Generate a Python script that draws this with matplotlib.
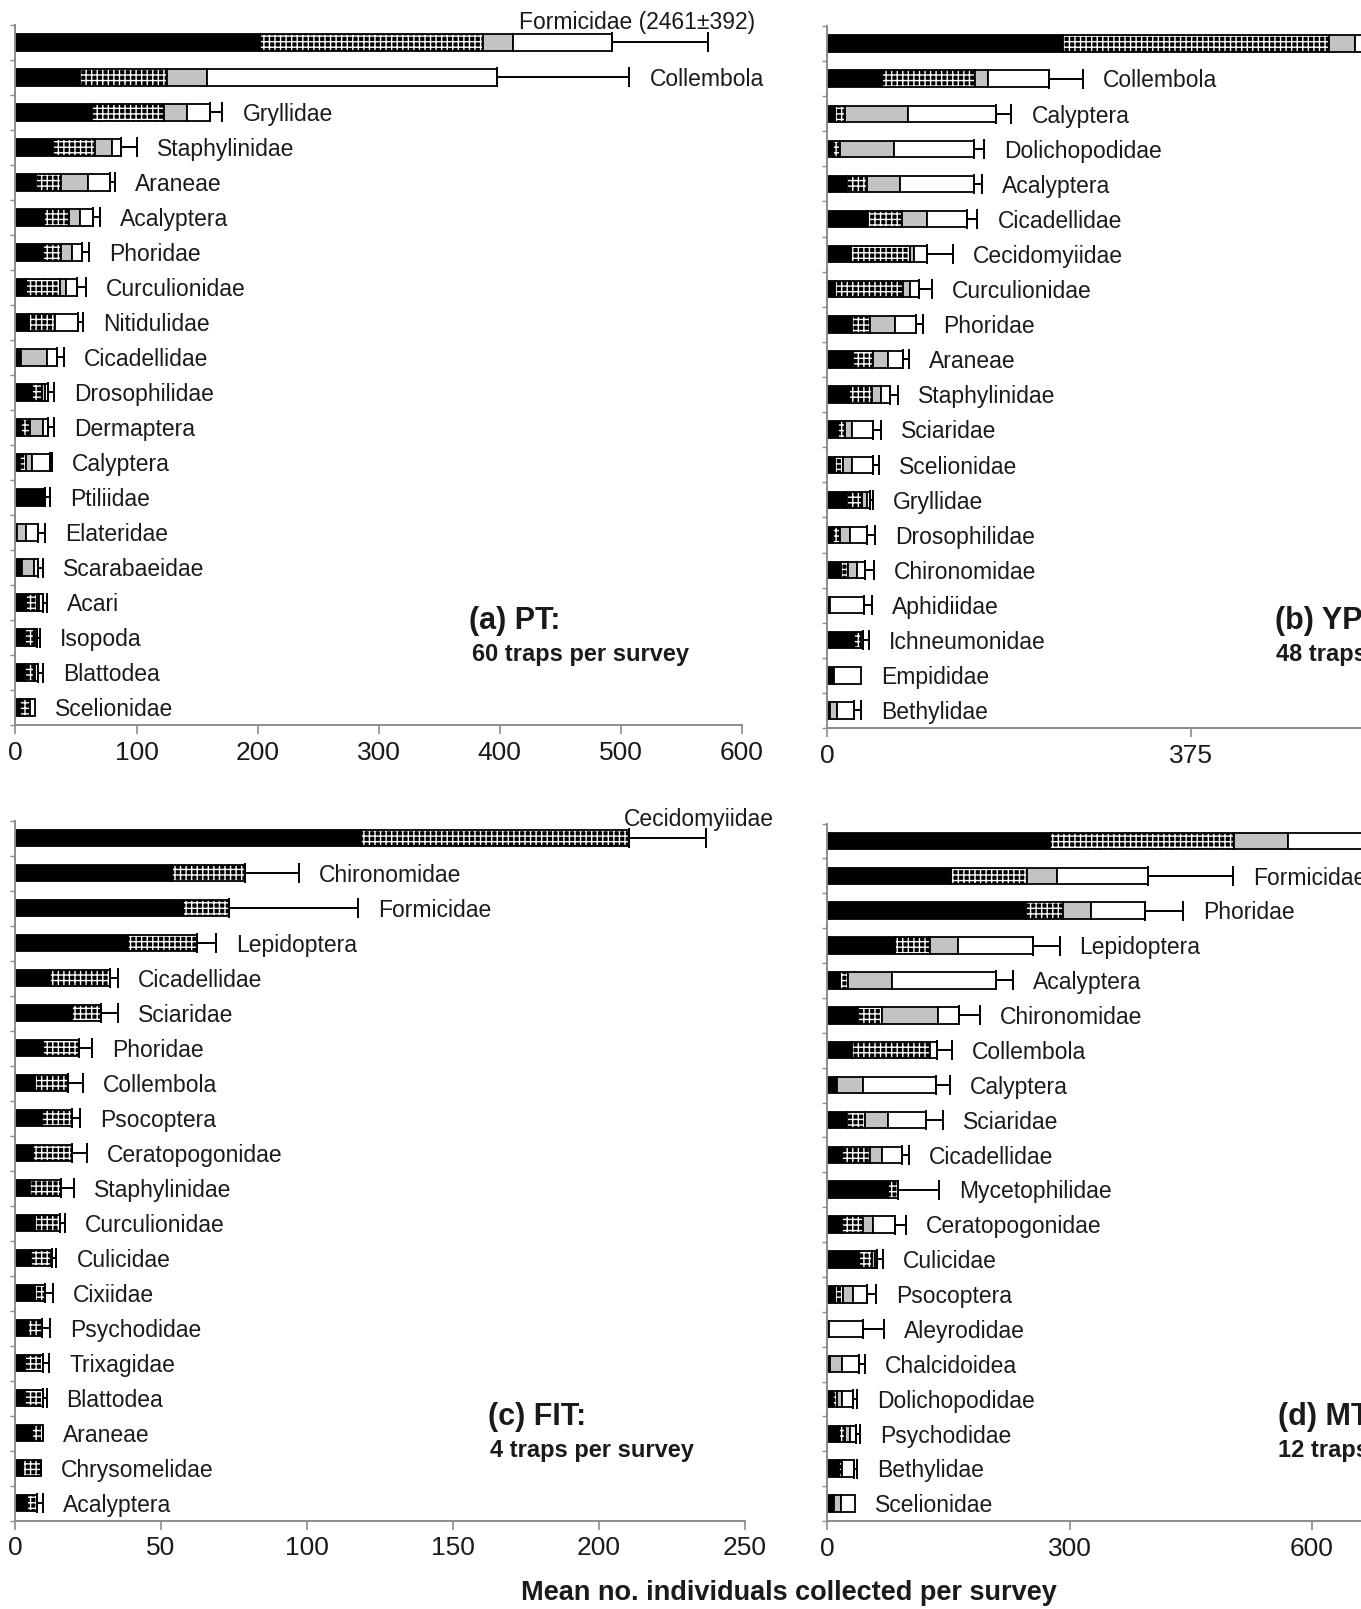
import matplotlib
matplotlib.use('Agg')
import matplotlib.pyplot as plt
import numpy as np

plt.rcParams['font.family'] = ['Liberation Sans', 'DejaVu Sans']
plt.rcParams['hatch.linewidth'] = 1.0

W, H = 1361, 1609

# segment order in every bar: black, stippled, grey, white (+ SE as the error bar)

# (a) PT
pt_taxa = ['Formicidae (2461±392)', 'Collembola', 'Gryllidae', 'Staphylinidae', 'Araneae',
           'Acalyptera', 'Phoridae', 'Curculionidae', 'Nitidulidae', 'Cicadellidae',
           'Drosophilidae', 'Dermaptera', 'Calyptera', 'Ptiliidae', 'Elateridae',
           'Scarabaeidae', 'Acari', 'Isopoda', 'Blattodea', 'Scelionidae']
pt_black = [202, 53, 63, 31, 17, 24, 23, 9, 11, 4, 13.5, 5, 4, 24.5, 1, 5, 9, 8, 8, 4]
pt_stip = [184, 72, 60, 35, 21, 20, 15, 28, 22, 1, 8.5, 7, 5, 0, 0, 0.5, 8.6, 7, 7, 8]
pt_grey = [25, 33, 19, 14, 22, 9, 9, 5, 0, 21, 2.5, 11, 4.5, 0, 8, 9.5, 2.2, 1, 1, 0]
pt_white = [82, 240, 19, 7, 18, 11, 8, 9, 19, 8, 2.5, 4, 15, 0, 10, 4, 2.8, 1.6, 3, 4]
pt_se = [79, 109, 10, 13, 4, 6, 6, 7, 4, 6, 5, 5, 1.5, 4, 5.5, 4, 3.4, 2.7, 4, 0]

# (b) YP  (top bar runs off the right edge of the figure, its label is not visible)
yp_taxa = ['', 'Collembola', 'Calyptera', 'Dolichopodidae', 'Acalyptera',
           'Cicadellidae', 'Cecidomyiidae', 'Curculionidae', 'Phoridae', 'Araneae',
           'Staphylinidae', 'Sciaridae', 'Scelionidae', 'Gryllidae', 'Drosophilidae',
           'Chironomidae', 'Aphidiidae', 'Ichneumonidae', 'Empididae', 'Bethylidae']
yp_black = [243.5, 56, 8, 6, 20, 42, 24, 8, 25, 27, 22, 11, 8, 20, 6, 14, 3, 28, 7, 3]
yp_stip = [274.5, 96, 10, 7, 21, 35, 61, 70, 19, 20, 24, 7, 8.5, 15.5, 7, 7, 0, 7, 0, 0]
yp_grey = [26.6, 14, 65, 56, 34, 26, 4, 7, 26, 16, 9, 7, 8.5, 5, 10, 10, 0, 0, 0, 7]
yp_white = [95.4, 63, 91, 82, 76, 41, 14, 10, 21.5, 15, 10, 22.5, 22, 3.5, 17.6, 8, 35, 2, 27.5, 18]
yp_se = [80, 35, 16, 11, 9, 11, 27, 13, 7.5, 6, 8, 7.5, 6, 3.5, 8.4, 8.7, 8, 6, 0, 7]

# (c) FIT
fit_taxa = ['Cecidomyiidae', 'Chironomidae', 'Formicidae', 'Lepidoptera', 'Cicadellidae',
            'Sciaridae', 'Phoridae', 'Collembola', 'Psocoptera', 'Ceratopogonidae',
            'Staphylinidae', 'Curculionidae', 'Culicidae', 'Cixiidae', 'Psychodidae',
            'Trixagidae', 'Blattodea', 'Araneae', 'Chrysomelidae', 'Acalyptera']
fit_black = [118.4, 53.9, 57.5, 38.7, 12, 19.4, 9.7, 6.8, 9.1, 6.3,
             5.1, 6.8, 5.4, 6.8, 4.5, 3.4, 3.4, 5.7, 2.8, 4]
fit_stip = [92, 24.7, 15.9, 23.6, 20.4, 10.2, 12.3, 11.4, 10.3, 13.1,
            10.8, 8.6, 7.1, 3.4, 4.6, 6.3, 6.3, 4, 6, 3.4]
fit_grey = [0] * 20
fit_white = [0] * 20
fit_se = [26.3, 18.7, 44.2, 6.6, 2.9, 5.7, 4.5, 5.1, 2.8, 5.1,
          4.2, 1.7, 1.7, 2.7, 2.9, 2, 1.1, 0, 0, 2.1]

# (d) MT  (top bar runs off the right edge, label not visible)
mt_taxa = ['', 'Formicidae', 'Phoridae', 'Lepidoptera', 'Acalyptera',
           'Chironomidae', 'Collembola', 'Calyptera', 'Sciaridae', 'Cicadellidae',
           'Mycetophilidae', 'Ceratopogonidae', 'Culicidae', 'Psocoptera', 'Aleyrodidae',
           'Chalcidoidea', 'Dolichopodidae', 'Psychodidae', 'Bethylidae', 'Scelionidae']
mt_black = [275.4, 153.5, 246.7, 84, 15.7, 38.4, 30.2, 11.6, 24, 17.8,
            75.6, 17.8, 39.7, 9.5, 2.5, 3.4, 7.5, 14.6, 14.6, 8.3]
mt_stip = [228.6, 94.1, 45.8, 43.3, 10.3, 29, 97.1, 0.4, 22.7, 35.1,
           12.4, 26.1, 15.3, 10.3, 0, 0, 4.1, 7.9, 4.2, 0]
mt_grey = [66.6, 36.4, 34.3, 35.1, 53.8, 70.2, 0, 32.6, 28.9, 14.5,
           0, 12.4, 4, 12.4, 0, 14.4, 6.2, 5.3, 0, 8.9]
mt_white = [149.4, 113, 66.2, 92.2, 129.2, 26, 9.1, 90.1, 46.7, 24.8,
            0, 27.7, 2, 16.6, 41.4, 21.9, 14.4, 7.8, 14.2, 17.3]
mt_se = [100, 105, 48, 33, 20.8, 25.7, 17.8, 17.3, 21.5, 9.4,
         50.8, 13.6, 8.4, 11.6, 26.4, 7, 4.2, 5.2, 3.6, 0]

TXT = '#1a1a1a'
AX = '#8c8c8c'


def box(x0, y0, x1, y1):
    return [x0 / W, 1 - y1 / H, (x1 - x0) / W, (y1 - y0) / H]


def panel(ax, taxa, black, stip, grey, white, se, xmax, ticks, top_off):
    n = len(taxa)
    y = np.arange(n)
    h = 0.47
    left = np.zeros(n)
    # black
    ax.barh(y, black, left=left, height=h, color='black', edgecolor='black', lw=1.3)
    left = left + np.array(black)
    # stippled: white hatch on black, then outline
    ax.barh(y, stip, left=left, height=h, color='black', edgecolor='white', lw=0, hatch='+++')
    ax.barh(y, stip, left=left, height=h, fill=False, edgecolor='black', lw=1.3)
    left = left + np.array(stip)
    ax.barh(y, grey, left=left, height=h, color='#c3c3c3', edgecolor='black', lw=1.3)
    left = left + np.array(grey)
    ax.barh(y, white, left=left, height=h, color='white', edgecolor='black', lw=1.3)
    left = left + np.array(white)

    se = np.array(se, dtype=float)
    m = se > 0
    ax.errorbar(left[m], y[m], xerr=[np.zeros(m.sum()), se[m]], fmt='none',
                ecolor='black', elinewidth=1.4, capsize=7.5, capthick=1.4)

    end = left + se
    for i, name in enumerate(taxa):
        if not name:
            continue
        if i == 0:
            ax.annotate(name, (end[i], y[i]), xytext=top_off, textcoords='offset points',
                        ha='right', va='baseline', fontsize=16.5, color=TXT,
                        annotation_clip=False)
        else:
            ax.annotate(name, (end[i], y[i]), xytext=(14.4, -6.3), textcoords='offset points',
                        ha='left', va='baseline', fontsize=16.5, color=TXT,
                        annotation_clip=False)

    ax.set_xlim(0, xmax)
    ax.set_ylim(n - 0.5, -0.5)
    ax.set_xticks(ticks)
    ax.set_yticks(np.arange(n + 1) - 0.5)
    ax.set_yticklabels([])
    for s in ['top', 'right']:
        ax.spines[s].set_visible(False)
    for s in ['left', 'bottom']:
        ax.spines[s].set_color(AX)
        ax.spines[s].set_linewidth(1.4)
    ax.tick_params(axis='x', direction='out', length=6.5, width=1.2, color=AX,
                   labelsize=19, labelcolor=TXT, pad=5)
    ax.tick_params(axis='y', direction='out', length=3.6, width=1.0, color=AX)


fig = plt.figure(figsize=(W / 100, H / 100), dpi=100)

# right-hand panels are wider than the canvas: the figure crops them at the right edge
ax_a = fig.add_axes(box(15.4, 25, 742, 725))
panel(ax_a, pt_taxa, pt_black, pt_stip, pt_grey, pt_white, pt_se,
      600, [0, 100, 200, 300, 400, 500, 600], (33.8, 10))
ax_b = fig.add_axes(box(827.3, 26, 1554, 728))
panel(ax_b, yp_taxa, yp_black, yp_stip, yp_grey, yp_white, yp_se,
      750, [0, 375], (33.8, 10))
ax_c = fig.add_axes(box(15, 820.7, 745, 1520.5))
panel(ax_c, fit_taxa, fit_black, fit_stip, fit_grey, fit_white, fit_se,
      250, [0, 50, 100, 150, 200, 250], (49, 9))
ax_d = fig.add_axes(box(827.3, 823.5, 1554, 1521))
panel(ax_d, mt_taxa, mt_black, mt_stip, mt_grey, mt_white, mt_se,
      900, [0, 300, 600], (49, 9))

# panel captions
caps = [(469, 621, '(a) PT:', 472, 654, '60 traps per survey'),
        (1275, 621, '(b) YP:', 1276, 654, '48 traps per survey'),
        (487.5, 1417, '(c) FIT:', 489.6, 1451, '4 traps per survey'),
        (1278, 1417, '(d) MT:', 1278, 1451, '12 traps per survey')]
for x1, y1, t1, x2, y2, t2 in caps:
    fig.text(x1 / W, 1 - y1 / H, t1, ha='left', va='center', fontsize=22,
             fontweight='bold', color=TXT)
    fig.text(x2 / W, 1 - y2 / H, t2, ha='left', va='center', fontsize=17,
             fontweight='bold', color=TXT)

fig.text(788.8 / W, 1 - 1593 / H, 'Mean no. individuals collected per survey',
         ha='center', va='center', fontsize=19.5, fontweight='bold', color=TXT)

fig.savefig('out.png', dpi=100)
